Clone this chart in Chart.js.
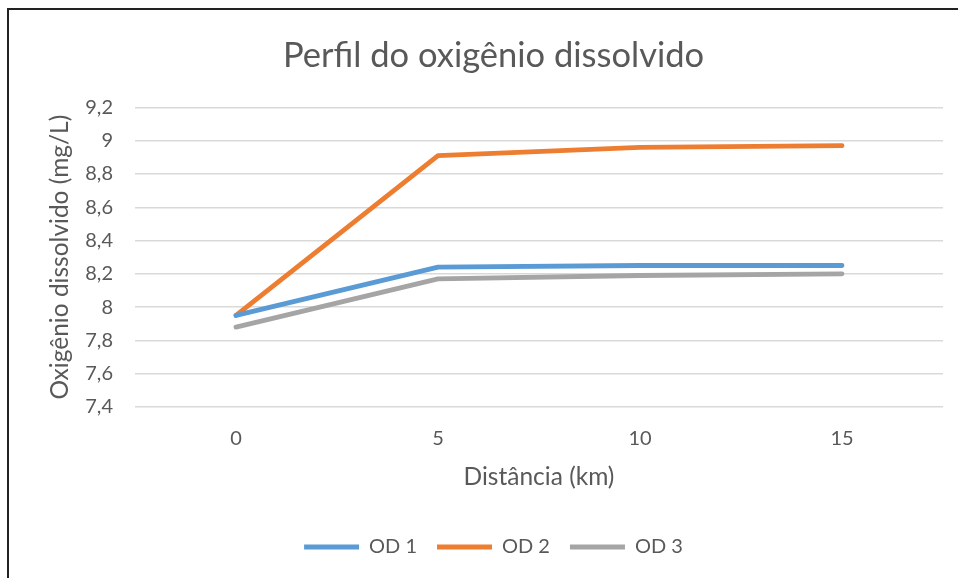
<!DOCTYPE html>
<html>
<head>
<meta charset="utf-8">
<script src="https://cdn.jsdelivr.net/npm/chart.js@4"></script>
<style>
html,body{margin:0;padding:0;background:#fff;}
#wrap{position:relative;width:958px;height:578px;overflow:hidden;}
#frame{position:absolute;left:7px;top:8px;width:1000px;height:700px;border:2px solid #222;box-sizing:border-box;}
canvas{position:absolute;left:0;top:0;}
</style>
</head>
<body>
<div id="wrap">
<div id="frame"></div>
<canvas id="c" width="958" height="578"></canvas>
</div>
<script>
const categories = ["0", "5", "10", "15"];
const od1 = [7.95, 8.24, 8.25, 8.25];
const od2 = [7.95, 8.91, 8.96, 8.97];
const od3 = [7.88, 8.17, 8.19, 8.20];
const seriesNames = ["OD 1", "OD 2", "OD 3"];
const yTicks = [7.4, 7.6, 7.8, 8.0, 8.2, 8.4, 8.6, 8.8, 9.0, 9.2];

const FONT = "Lato, 'Open Sans', sans-serif";
const TXT = "#595959";

function ds(label, data, color){
  return {label, data, borderColor: color, backgroundColor: color, borderWidth: 4.8,
    borderCapStyle: 'round', borderJoinStyle: 'round', pointRadius: 0, pointHoverRadius: 0,
    tension: 0, fill: false};
}

new Chart(document.getElementById('c'), {
  type: 'line',
  data: {
    labels: categories,
    datasets: [
      ds(seriesNames[0], od1, '#5B9BD5'),
      ds(seriesNames[1], od2, '#ED7D31'),
      ds(seriesNames[2], od3, '#A5A5A5')
    ]
  },
  options: {
    responsive: false,
    animation: false,
    devicePixelRatio: 1,
    layout: {padding: {left: 44, right: 15, top: 0, bottom: 11}},
    plugins: {
      title: {display: true, text: 'Perfil do oxigênio dissolvido', color: TXT,
        font: {family: FONT, size: 34.5, weight: 'normal'}, padding: {top: 35, bottom: 31}},
      legend: {position: 'bottom', labels: {usePointStyle: true, pointStyle: 'line', pointStyleWidth: 55,
        boxHeight: 10, color: TXT, font: {family: FONT, size: 20}, padding: 20}},
      tooltip: {enabled: false}
    },
    scales: {
      x: {
        offset: true,
        grid: {display: false},
        border: {display: false},
        ticks: {color: TXT, font: {family: FONT, size: 20}, padding: 12},
        title: {display: true, text: 'Distância (km)', color: TXT, font: {family: FONT, size: 24.5}, padding: {top: 4, bottom: 25}},
        afterFit(s){ s.height = 110; }
      },
      y: {
        min: 7.4, max: 9.2,
        afterBuildTicks(s){ s.ticks = yTicks.map(v => ({value: v})); },
        grid: {color: '#D9D9D9', lineWidth: 1.5, drawTicks: false},
        border: {display: false},
        ticks: {color: TXT, font: {family: FONT, size: 20}, padding: 22,
          callback: v => String(Math.round(v*10)/10).replace('.', ',')},
        title: {display: true, text: 'Oxigênio dissolvido (mg/L)', color: TXT, font: {family: FONT, size: 24.5}, padding: {top: 1, bottom: 0}},
        afterFit(s){ s.width = 91; }
      }
    }
  }
});
</script>
</body>
</html>
